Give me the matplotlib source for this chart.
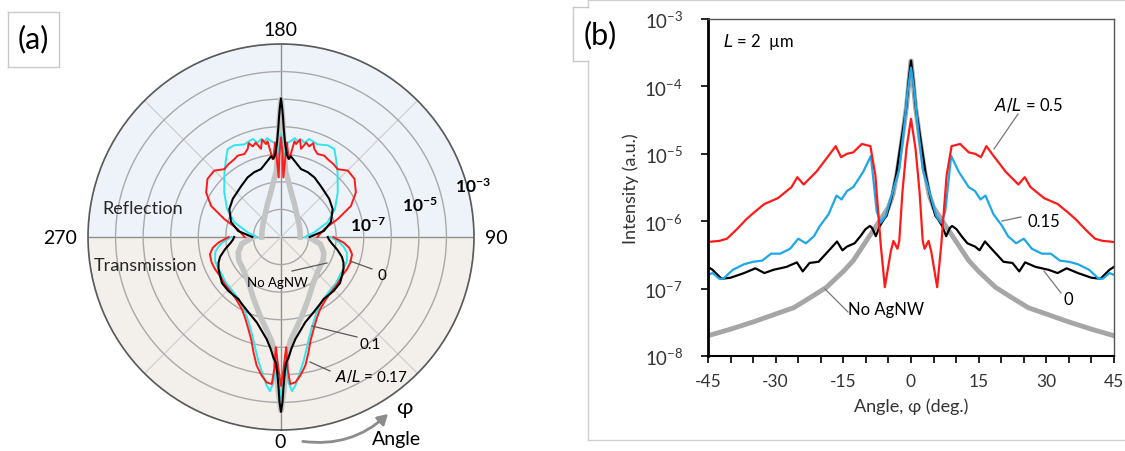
import numpy as np
import matplotlib
matplotlib.use("Agg")
import matplotlib.pyplot as plt
from matplotlib.patches import Wedge, FancyArrowPatch
from matplotlib.lines import Line2D
from matplotlib.ticker import NullLocator

plt.rcParams["font.family"] = ["Lato", "DejaVu Sans"]
plt.rcParams["mathtext.default"] = "regular"
plt.rcParams["axes.unicode_minus"] = False

W, H = 1125, 452

# ---------------- panel (a): polar, right half only (mirror-symmetric) ----------------
# transmission side, angle 0..90 deg
t_deg_black = [0, 0.5, 1.0, 1.6, 2.4, 3.5, 5.5, 8, 12, 15.8, 23.3, 30, 34.4, 44.2, 52, 57.4, 63, 67.8, 72, 77.6, 83, 87, 90]
t_black = [2.2e-4, 1.0e-4, 2.5e-5, 7.9e-6, 3.5e-6, 2.5e-6, 1.1e-6, 5.5e-7, 2.8e-7, 1.66e-7, 9.5e-8, 6.6e-8, 5.4e-8,
           5.4e-8, 5.2e-8, 4.2e-8, 3.5e-8, 2.8e-8, 2.1e-8, 1.2e-8, 7.1e-9, 5.5e-9, 5.0e-9]
t_deg_cyan = [0, 1.2, 2.3, 3.0, 4.1, 5.6, 8, 10.5, 13, 16, 19, 24, 28, 35, 43, 50, 57, 64, 70, 77, 81, 85, 90]
t_cyan = [7.1e-5, 1.6e-5, 5.0e-6, 2.0e-5, 4.0e-5, 2.5e-5, 8.9e-6, 3.5e-6, 1.4e-6, 5.6e-7, 2.8e-7, 1.26e-7, 7.9e-8,
          5.2e-8, 4.2e-8, 4.0e-8, 3.5e-8, 3.5e-8, 3.5e-8, 2.8e-8, 2.0e-8, 1.3e-8, 6.3e-9]
t_deg_red = [0, 1.1, 2.0, 2.7, 2.9, 3.6, 5.6, 7.9, 10.7, 13.4, 16, 19.5, 24, 28.5, 35, 43.4, 50, 57.4, 64, 69.7, 76.3, 81, 84.9, 90]
t_red = [2.5e-5, 6.3e-6, 2.0e-6, 1.0e-6, 6.3e-6, 2.2e-5, 2.0e-5, 1.2e-5, 5.6e-6, 2.0e-6, 7.9e-7, 3.5e-7, 1.6e-7,
         9.5e-8, 6.3e-8, 4.9e-8, 4.6e-8, 4.2e-8, 4.6e-8, 4.8e-8, 4.5e-8, 3.2e-8, 1.9e-8, 7.9e-9]
t_deg_gray = [0, 1.0, 2.0, 3.0, 5.0, 9.0, 15, 24, 35, 50, 61, 70, 80, 90]
t_gray = [2.0e-4, 4.0e-5, 6.3e-6, 2.0e-6, 6.3e-7, 2.5e-7, 8.9e-8, 2.8e-8, 1.1e-8, 6.3e-9, 5.6e-9, 4.5e-9, 2.8e-9, 1.0e-9]

# reflection side, angle 180..90 deg
r_deg_black = [180, 179.5, 179, 178.5, 177.5, 176, 174.5, 173, 171, 168.6, 163.6, 157.6, 150.7, 141.9, 128.4, 118.4, 106.7, 98, 90]
r_black = [1.07e-5, 5.0e-6, 2.0e-6, 7.9e-7, 2.5e-7, 1.0e-7, 7.1e-8, 8.9e-8, 7.1e-8, 5.6e-8, 3.7e-8, 3.5e-8, 3.0e-8,
           2.2e-8, 1.7e-8, 1.35e-8, 7.8e-9, 3.7e-9, 1.1e-9]
r_deg_cyan = [180, 178.8, 177.8, 176.5, 174, 172, 170, 168.5, 166, 164, 161.7, 158.4, 153, 148.8, 144.8, 138.8, 128.3, 117.4, 107.5, 98, 90]
r_cyan = [5.4e-7, 1.6e-7, 1.0e-7, 2.5e-7, 3.2e-7, 4.2e-7, 3.2e-7, 4.2e-7, 3.3e-7, 5.0e-7, 4.6e-7, 4.1e-7, 5.4e-7,
          5.4e-7, 2.9e-7, 1.3e-7, 4.2e-8, 1.6e-8, 5.9e-9, 1.66e-9, 7.4e-10]
r_deg_red = [180, 178.9, 177.8, 176.4, 175, 173.9, 172, 170.8, 169, 167.2, 165, 162.7, 161, 159.3, 156.2, 152, 149, 144,
             140.2, 134.8, 128.3, 120.8, 114, 107.6, 100.5, 90]
r_red = [4.1e-7, 1.0e-7, 1.45e-8, 2.75e-7, 1.0e-7, 6.9e-8, 3.2e-7, 2.6e-7, 4.0e-7, 1.9e-7, 3.5e-7, 2.75e-7, 4.0e-7,
         2.6e-7, 1.95e-7, 2.2e-7, 1.95e-7, 1.8e-7, 1.6e-7, 2.6e-7, 2.5e-7, 1.45e-7, 6.0e-8, 1.45e-8, 4.0e-9, 2.1e-9]
r_deg_gray = [180, 179.2, 178.5, 177.5, 176, 172, 166, 158, 145, 125, 105, 90]
r_gray = [1.0e-5, 2.0e-6, 3.2e-7, 7.9e-8, 2.5e-8, 1.0e-8, 4.0e-9, 2.0e-9, 1.0e-9, 6.3e-10, 5.2e-10, 5.0e-10]

rings = [1e-9, 1e-8, 1e-7, 1e-6, 1e-5, 1e-4, 1e-3]

# ---------------- panel (b): angle >= 0, mirror-symmetric ----------------
b_deg_red = [0, 1.0, 1.9, 2.6, 3.0, 3.9, 4.5, 5.8, 6.7, 7.9, 9.0, 10.9, 12.8, 14.2, 15.5, 16.7, 18.2, 21.0, 23.8, 25.2,
             26.5, 29.5, 32.5, 34.5, 36.5, 38.6, 40.8, 42.5, 44.0, 45]
b_red = [3.3e-5, 1.2e-5, 2.7e-6, 5.1e-7, 3.9e-7, 5.1e-7, 3.5e-7, 1.05e-7, 4.4e-7, 4.8e-6, 1.3e-5, 1.4e-5, 1.05e-5,
         1.0e-5, 8.9e-6, 1.3e-5, 9.5e-6, 5.4e-6, 3.5e-6, 4.5e-6, 3.2e-6, 2.2e-6, 1.8e-6, 1.4e-6, 1.07e-6, 7.6e-7,
         5.5e-7, 5.1e-7, 5.0e-7, 4.9e-7]
b_deg_cyan = [0, 0.8, 1.5, 2.6, 4.1, 5.6, 6.7, 7.6, 8.9, 10.6, 12.8, 14.2, 15.4, 16.5, 18.3, 20.2, 21.5, 23.3, 25.0,
              26.8, 29.0, 31.0, 33.0, 35.0, 37.0, 39.5, 41.6, 42.5, 44.0, 45]
b_cyan = [1.9e-4, 7.9e-5, 2.6e-5, 5.9e-6, 2.7e-6, 1.2e-6, 9.5e-7, 1.4e-6, 9.3e-6, 5.4e-6, 3.2e-6, 2.8e-6, 2.1e-6,
          2.4e-6, 1.26e-6, 8.5e-7, 6.0e-7, 4.7e-7, 5.5e-7, 3.9e-7, 3.3e-7, 3.3e-7, 2.6e-7, 2.5e-7, 2.3e-7, 1.9e-7,
          1.4e-7, 1.4e-7, 1.7e-7, 1.6e-7]
b_deg_black = [0, 0.5, 1.1, 2.2, 3.3, 4.4, 5.4, 6.0, 6.9, 7.8, 8.6, 9.1, 10.1, 11.2, 12.5, 14.2, 15.2, 16.4, 18.0, 20.5,
               22.5, 24.0, 25.3, 27.6, 30.5, 32.5, 34.5, 37.0, 40.0, 42.0, 44.0, 45]
b_black = [2.4e-4, 1.26e-4, 4.6e-5, 1.5e-5, 4.8e-6, 2.1e-6, 1.2e-6, 1.07e-6, 8.5e-7, 6.0e-7, 7.9e-7, 8.5e-7, 7.6e-7,
           6.0e-7, 4.7e-7, 4.2e-7, 3.7e-7, 5.0e-7, 3.8e-7, 2.5e-7, 2.4e-7, 1.8e-7, 2.45e-7, 2.1e-7, 1.9e-7, 1.7e-7,
           2.0e-7, 1.7e-7, 1.45e-7, 1.4e-7, 1.9e-7, 2.1e-7]
b_deg_gray = [0, 1, 2, 3, 4, 5, 6, 7, 8, 9, 10, 12.8, 15, 18.7, 22, 26, 30, 35, 40, 45]
b_gray = [2.4e-4, 5.0e-5, 1.6e-5, 5.6e-6, 2.5e-6, 1.6e-6, 1.26e-6, 1.0e-6, 7.9e-7, 6.3e-7, 5.0e-7, 2.6e-7, 1.8e-7,
          1.05e-7, 7.6e-8, 5.2e-8, 4.2e-8, 3.2e-8, 2.5e-8, 2.0e-8]


def mirror(deg, val, center=0.0):
    deg = np.asarray(deg, float)
    val = np.asarray(val, float)
    return (np.concatenate([(2 * center - deg)[::-1], deg[1:]]),
            np.concatenate([val[::-1], val[1:]]))


def fx(x):
    return x / W


def fy(y):
    return 1 - y / H


def ftext(x, y, s, **kw):
    kw.setdefault("ha", "center")
    kw.setdefault("va", "center")
    fig.text(fx(x), fy(y), s, **kw)


def fline(x0, y0, x1, y1, color="#595959", lw=0.9):
    fig.add_artist(Line2D([fx(x0), fx(x1)], [fy(y0), fy(y1)], color=color, lw=lw,
                          transform=fig.transFigure))


fig = plt.figure(figsize=(W / 100, H / 100), dpi=100)

# ---------- (a) ----------
cx, cy, R = 281, 238, 193
axa = fig.add_axes([fx(cx - R), fy(cy + R), 2 * R / W, 2 * R / H], projection="polar")
axa.set_theta_zero_location("S")
axa.set_theta_direction(1)
axa.set_rscale("log")
axa.set_facecolor("#f3efea")
axa.add_patch(Wedge((0.5, 0.5), 0.5, 0, 180, transform=axa.transAxes,
                    facecolor="#edf3f9", edgecolor="none", zorder=0.2))

for ang in range(0, 360, 45):
    c = "#8f8f8f" if ang % 90 == 0 else "#d3d3d3"
    axa.plot([np.deg2rad(ang)] * 2, [1e-10, 1e-3], color=c, lw=1.0, zorder=1)

series_a = [
    (t_deg_gray, t_gray, 0, "#c4c4c4", 4.0),
    (r_deg_gray, r_gray, 180, "#c4c4c4", 4.0),
    (t_deg_cyan, t_cyan, 0, "#2ee6f0", 1.4),
    (r_deg_cyan, r_cyan, 180, "#2ee6f0", 1.4),
    (t_deg_red, t_red, 0, "#ff1a1a", 1.4),
    (r_deg_red, r_red, 180, "#ff1a1a", 1.4),
    (t_deg_black, t_black, 0, "black", 1.5),
    (r_deg_black, r_black, 180, "black", 1.5),
]
for deg, val, c0, col, lw in series_a:
    th, rr = mirror(deg, val, c0)
    axa.plot(np.deg2rad(th), rr, color=col, lw=lw, zorder=3)

axa.set_rlim(1e-10, 1e-3)
axa.set_rticks(rings)
axa.set_yticklabels([])
axa.set_xticks(np.deg2rad(np.arange(0, 360, 45)))
axa.set_xticklabels([])
axa.xaxis.grid(False)
axa.yaxis.grid(True, color="#a9a9a9", lw=1.0)
axa.spines["polar"].set_color("#5a5a5a")
axa.spines["polar"].set_linewidth(1.2)

ftext(280, 31, "180", fontsize=14)
ftext(280, 443, "0", fontsize=14)
ftext(60, 238, "270", fontsize=14)
ftext(496, 238, "90", fontsize=14)
ftext(143, 209, "Reflection", fontsize=13, color="#262626")
ftext(146, 266, "Transmission", fontsize=13, color="#262626")
for x, y, s in [(368, 226, "-7"), (420, 206, "-5"), (473, 187, "-3")]:
    ftext(x, y, r"$\mathregular{10^{%s}}$" % s, fontsize=12.5, fontweight="bold")

ftext(277, 283, "No AgNW", fontsize=9.5)
fline(292, 272, 327, 264)
ftext(382, 276, "0", fontsize=11)
fline(372, 270, 350, 262)
ftext(370, 345, "0.1", fontsize=11)
fline(357, 338, 312, 327)
ftext(372, 377, r"$\it{A/L}$ = 0.17", fontsize=11)
fline(330, 372, 310, 363)

fig.add_artist(FancyArrowPatch((fx(300), fy(442)), (fx(390), fy(413)), transform=fig.transFigure,
                               connectionstyle="arc3,rad=0.25", arrowstyle="-|>,head_length=6,head_width=3.5",
                               color="#8c8c8c", lw=2))
ftext(404, 408, "φ", fontsize=16)
ftext(397, 440, "Angle", fontsize=14)

# (a) box
fline(8, 13, 59, 13, color="#c8c8c8", lw=1)
fline(8, 68, 59, 68, color="#c8c8c8", lw=1)
fline(8, 13, 8, 68, color="#c8c8c8", lw=1)
fline(59, 13, 59, 68, color="#c8c8c8", lw=1)
ftext(33, 39, "(a)", fontsize=22)

# ---------- (b) ----------
axb = fig.add_axes([fx(708), fy(357), (1114 - 708) / W, (357 - 20) / H])
for deg, val, col, lw in [(b_deg_gray, b_gray, "#a6a6a6", 3.5), (b_deg_black, b_black, "black", 1.6),
                          (b_deg_cyan, b_cyan, "#1ea7e8", 1.6), (b_deg_red, b_red, "#ff1a1a", 1.6)]:
    xx, yy = mirror(deg, val)
    axb.plot(xx, yy, color=col, lw=lw)
axb.set_yscale("log")
axb.set_ylim(1e-8, 1e-3)
axb.set_xlim(-45, 45)
axb.set_xticks(np.arange(-45, 46, 15))
axb.set_xticks(np.arange(-45, 46, 5), minor=True)
axb.yaxis.set_minor_locator(NullLocator())
axb.tick_params(which="both", direction="out", length=5, width=1.2, labelsize=12.5, labelcolor="#333333")
axb.tick_params(axis="y", pad=13, labelsize=13.5)
axb.tick_params(axis="x", pad=7)
axb.spines["left"].set_linewidth(2)
axb.spines["bottom"].set_linewidth(1.5)
for s in ("top", "right"):
    axb.spines[s].set_color("#555555")
    axb.spines[s].set_linewidth(1)
axb.set_xlabel("Angle, φ (deg.)", fontsize=13, color="#333333", labelpad=6)
axb.set_ylabel("Intensity (a.u.)", fontsize=13, color="#333333", labelpad=4)

ftext(758, 42, r"$\it{L}$ = 2  µm", fontsize=12)
ftext(1029, 105, r"$\it{A/L}$ = 0.5", fontsize=12)
fline(1018, 115, 994, 150, color="#777777")
ftext(1044, 222, "0.15", fontsize=12)
fline(1021, 218, 1002, 222, color="#777777")
ftext(1068, 300, "0", fontsize=12)
fline(1061, 294, 1044, 272, color="#777777")
ftext(886, 310, "No AgNW", fontsize=12)
fline(848, 313, 825, 290, color="#777777")

# panel (b) frame and label box
fline(588, 1, 1125, 1, color="#cfcfcf", lw=1)
fline(588, 0, 588, 8, color="#cfcfcf", lw=1)
fline(588, 62, 588, 441, color="#cfcfcf", lw=1)
fline(588, 441, 1125, 441, color="#cfcfcf", lw=1)
fline(573, 8, 588, 8, color="#c8c8c8", lw=1)
fline(573, 62, 588, 62, color="#c8c8c8", lw=1)
fline(573, 8, 573, 62, color="#c8c8c8", lw=1)
ftext(600, 35, "(b)", fontsize=22)

fig.savefig("out.png", dpi=100)
